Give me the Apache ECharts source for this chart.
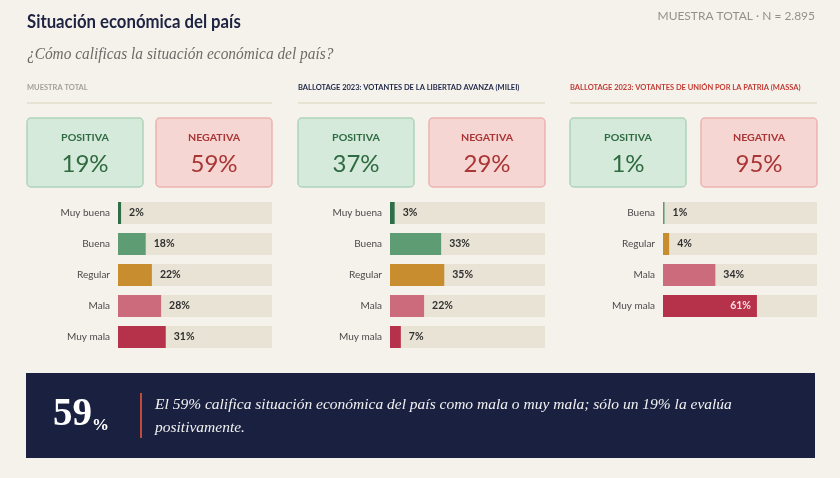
<!DOCTYPE html>
<html>
<head>
<meta charset="utf-8">
<script src="https://cdn.jsdelivr.net/npm/echarts@6/dist/echarts.min.js"></script>
<style>
  html, body { margin: 0; padding: 0; background: #f5f2ec; }
  #chart { width: 840px; height: 478px; }
</style>
</head>
<body>
<div id="chart"></div>
<script>
// datos
const categories = ['Muy buena', 'Buena', 'Regular', 'Mala', 'Muy mala'];
const totalValues = [2, 18, 22, 28, 31];
const mileiValues = [3, 33, 35, 22, 7];
const massaCategories = ['Buena', 'Regular', 'Mala', 'Muy mala'];
const massaValues = [1, 4, 34, 61];
const positivaValues = [19, 37, 1];
const negativaValues = [59, 29, 95];
const panelTitles = [
  'MUESTRA TOTAL',
  'BALLOTAGE 2023: VOTANTES DE LA LIBERTAD AVANZA (MILEI)',
  'BALLOTAGE 2023: VOTANTES DE UNIÓN POR LA PATRIA (MASSA)'
];
const highlightValue = 59;
const highlightText = 'El 59% califica situación económica del país como mala o muy mala; sólo un 19% la evalúa\npositivamente.';

const catColors = {
  'Muy buena': '#2f6e47',
  'Buena': '#5e9c73',
  'Regular': '#c88d2f',
  'Mala': '#cc6b7c',
  'Muy mala': '#b6324b'
};

const myChart = echarts.init(document.getElementById('chart'));

// paneles: posición de cada bloque
const panels = [
  { x: 27, w: 245, barLeft: 118, cats: categories, vals: totalValues, titleColor: '#a3a09a' },
  { x: 298, w: 247, barLeft: 390, cats: categories, vals: mileiValues, titleColor: '#1d2547' },
  { x: 570, w: 247, barLeft: 663, cats: massaCategories, vals: massaValues, titleColor: '#c23b33' }
];
const rowH = 31;
const barTop = 197.5;

const grids = [], xAxes = [], yAxes = [], series = [], graphics = [];

panels.forEach((p, i) => {
  grids.push({
    left: p.barLeft,
    width: p.x + p.w - p.barLeft,
    top: barTop,
    height: rowH * p.cats.length
  });
  xAxes.push({ gridIndex: i, type: 'value', min: 0, max: 100, show: false });
  yAxes.push({
    gridIndex: i,
    type: 'category',
    inverse: true,
    data: p.cats,
    axisLine: { show: false },
    axisTick: { show: false },
    axisLabel: { color: '#4a4a4a', fontSize: 10, fontFamily: 'Lato', margin: 8 }
  });
  series.push({
    type: 'bar',
    xAxisIndex: i,
    yAxisIndex: i,
    barWidth: 22,
    showBackground: true,
    backgroundStyle: { color: '#e9e3d5' },
    data: p.vals.map((v, k) => {
      const big = v > 50;
      return {
        value: v,
        itemStyle: { color: catColors[p.cats[k]] },
        label: big ? { position: 'insideRight', color: '#f7dde0', distance: 6 } : {}
      };
    }),
    label: {
      show: true,
      position: 'right',
      distance: 8,
      formatter: '{c}%',
      color: '#2f2f2f',
      fontSize: 10.5,
      fontWeight: 'bold',
      fontFamily: 'Lato'
    }
  });

  // encabezado del panel + línea
  graphics.push({
    type: 'text', x: p.x, y: 88,
    style: { text: panelTitles[i], fill: p.titleColor, fontSize: 7.5, fontWeight: 'bold', fontFamily: 'Lato',
      verticalAlign: 'middle' }
  });
  graphics.push({
    type: 'line', shape: { x1: p.x, y1: 103, x2: p.x + p.w, y2: 103 },
    style: { stroke: '#e2dccc', lineWidth: 1.5 }
  });

  // cajas positiva / negativa
  const bw = 116, gap = (p.w - 2 * bw);
  [
    { label: 'POSITIVA', val: positivaValues[i], fill: '#d5eadb', stroke: '#afd4b9', color: '#2f6a41', bx: p.x },
    { label: 'NEGATIVA', val: negativaValues[i], fill: '#f6d6d3', stroke: '#ebb3b0', color: '#a93535', bx: p.x + bw + gap }
  ].forEach(b => {
    graphics.push({
      type: 'rect', shape: { x: b.bx, y: 118, width: bw, height: 69, r: 4 },
      style: { fill: b.fill, stroke: b.stroke, lineWidth: 1.5 }
    });
    graphics.push({
      type: 'text', x: b.bx + bw / 2, y: 138, scaleX: 1.12,
      style: { text: b.label, fill: b.color, fontSize: 9.5, fontWeight: 'bold', fontFamily: 'Lato',
        align: 'center', verticalAlign: 'middle' }
    });
    graphics.push({
      type: 'text', x: b.bx + bw / 2, y: 164,
      style: { text: b.val + '%', fill: b.color, fontSize: 24, fontFamily: 'Lato',
        align: 'center', verticalAlign: 'middle' }
    });
  });
});

// título, subtítulo y caja inferior
graphics.push(
  { type: 'text', x: 27, y: 22, scaleX: 0.93,
    style: { text: 'Situación económica del país', fill: '#1d2340', fontSize: 18, fontWeight: 'bold',
      fontFamily: 'Lato', verticalAlign: 'middle' } },
  { type: 'text', x: 815, y: 17, scaleX: 1.14,
    style: { text: 'MUESTRA TOTAL · N = 2.895', fill: '#949089', fontSize: 10.5, fontFamily: 'Lato',
      align: 'right', verticalAlign: 'middle' } },
  { type: 'text', x: 27, y: 55, scaleX: 0.96,
    style: { text: '¿Cómo calificas la situación económica del país?', fill: '#6d6b67', fontSize: 16,
      fontStyle: 'italic', fontFamily: 'Liberation Serif', verticalAlign: 'middle' } },
  { type: 'rect', shape: { x: 26, y: 373, width: 789, height: 85 },
    style: { fill: '#1a2140' } },
  { type: 'text', x: 53, y: 434,
    style: { text: '{n|' + highlightValue + '}{p|%}', fill: '#ffffff', verticalAlign: 'bottom',
      rich: {
        n: { fontSize: 39, fontWeight: 'bold', fontFamily: 'Liberation Serif', fill: '#ffffff', verticalAlign: 'bottom' },
        p: { fontSize: 17, fontWeight: 'bold', fontFamily: 'Liberation Serif', fill: '#ffffff', verticalAlign: 'bottom' }
      } } },
  { type: 'line', shape: { x1: 141, y1: 393, x2: 141, y2: 438 },
    style: { stroke: '#c24a38', lineWidth: 2 } },
  { type: 'text', x: 155, y: 416,
    style: { text: highlightText, fill: '#f2f2f2', fontSize: 15.5, lineHeight: 23, fontStyle: 'italic',
      fontFamily: 'Liberation Serif', verticalAlign: 'middle' } }
);

const option = {
  backgroundColor: '#f5f2ec',
  animation: false,
  grid: grids,
  xAxis: xAxes,
  yAxis: yAxes,
  series: series,
  graphic: graphics
};

myChart.setOption(option);
</script>
</body>
</html>
